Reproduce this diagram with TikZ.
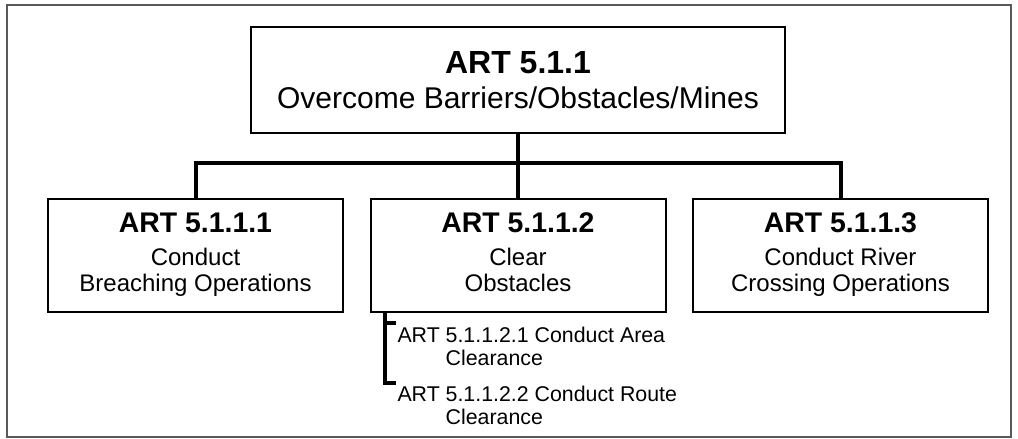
\documentclass[tikz,border=0pt]{standalone}
\usepackage{fontspec}
\setmainfont{Liberation Sans}
\tikzset{every picture/.style={line width=0.75pt}}
\tikzset{
  artbox/.style={draw, line width=1.5pt, rectangle, inner sep=0pt, align=center},
  topbox/.style={artbox, minimum width=400.5pt, minimum height=79.5pt, font=\fontsize{22.5}{26.25}\selectfont},
  subbox/.style={artbox, minimum width=221.25pt, minimum height=84.75pt, font=\fontsize{18}{19.5}\selectfont},
  subtask/.style={anchor=north west, inner sep=0pt, align=left, font=\fontsize{16}{17.25}\selectfont},
  conn/.style={line width=3pt},
  subconn/.style={line width=3pt},
  frame/.style={draw=black!65, line width=1.1pt}
}
\newcommand{\tstrut}[1]{\rule{0pt}{#1}}
\newcommand{\bstrut}[1]{\rule[-#1]{0pt}{#1}}
\newcommand{\arttitle}[1]{{\bfseries\fontsize{21.3}{21.3}\selectfont\tstrut{15pt}#1}\\[5.25pt]}

\begin{document}
\begin{tikzpicture}[x=0.75pt,y=0.75pt,yscale=-1,xscale=1]
\useasboundingbox (0,0) rectangle (1018,439);

%Shape: Rectangle [id:frame]
\draw [frame] (7,5) rectangle (1011,437) ;

%Shape: Rectangle [id:art11]
\node [topbox] (art11) at (518,80) {{\bfseries\fontsize{24}{24}\selectfont\tstrut{22pt}ART 5.1.1}\\Overcome Barriers/Obstacles/Mines\bstrut{6.25pt}};
%Shape: Rectangle [id:art111]
\node [subbox] (art111) at (195.5,255.5) {\arttitle{ART 5.1.1.1}Conduct\\Breaching Operations\bstrut{6pt}};
%Shape: Rectangle [id:art112]
\node [subbox] (art112) at (518,255.5) {\arttitle{ART 5.1.1.2}Clear\\Obstacles\bstrut{6pt}};
%Shape: Rectangle [id:art113]
\node [subbox] (art113) at (840.5,255.5) {\arttitle{ART 5.1.1.3}Conduct River\\Crossing Operations\bstrut{6pt}};

% Text Node
\node [subtask] (art1121) at (397,326.5) {ART 5.1.1.2.1 Conduct Area\\\hphantom{ART }Clearance};
% Text Node
\node [subtask] (art1122) at (397,386) {ART 5.1.1.2.2 Conduct Route\\\hphantom{ART }Clearance};

%Straight Lines [id:tree]
\coordinate (junction) at (518,163) ;
\coordinate (stem) at (385,312) ;
\draw [conn] (art11.south) -- (art112.north) ;
\draw [conn] (art111.north) |- (junction) -| (art113.north) ;
%Straight Lines [id:subtasks]
\draw [subconn] (stem) |- ([xshift=-1pt,yshift=-1.9pt]art1122.north west) ;
\draw [subconn] ([xshift=-1pt,yshift=-2.6pt]art1121.north west) -- ++(-11,0) ;

\end{tikzpicture}
\end{document}
